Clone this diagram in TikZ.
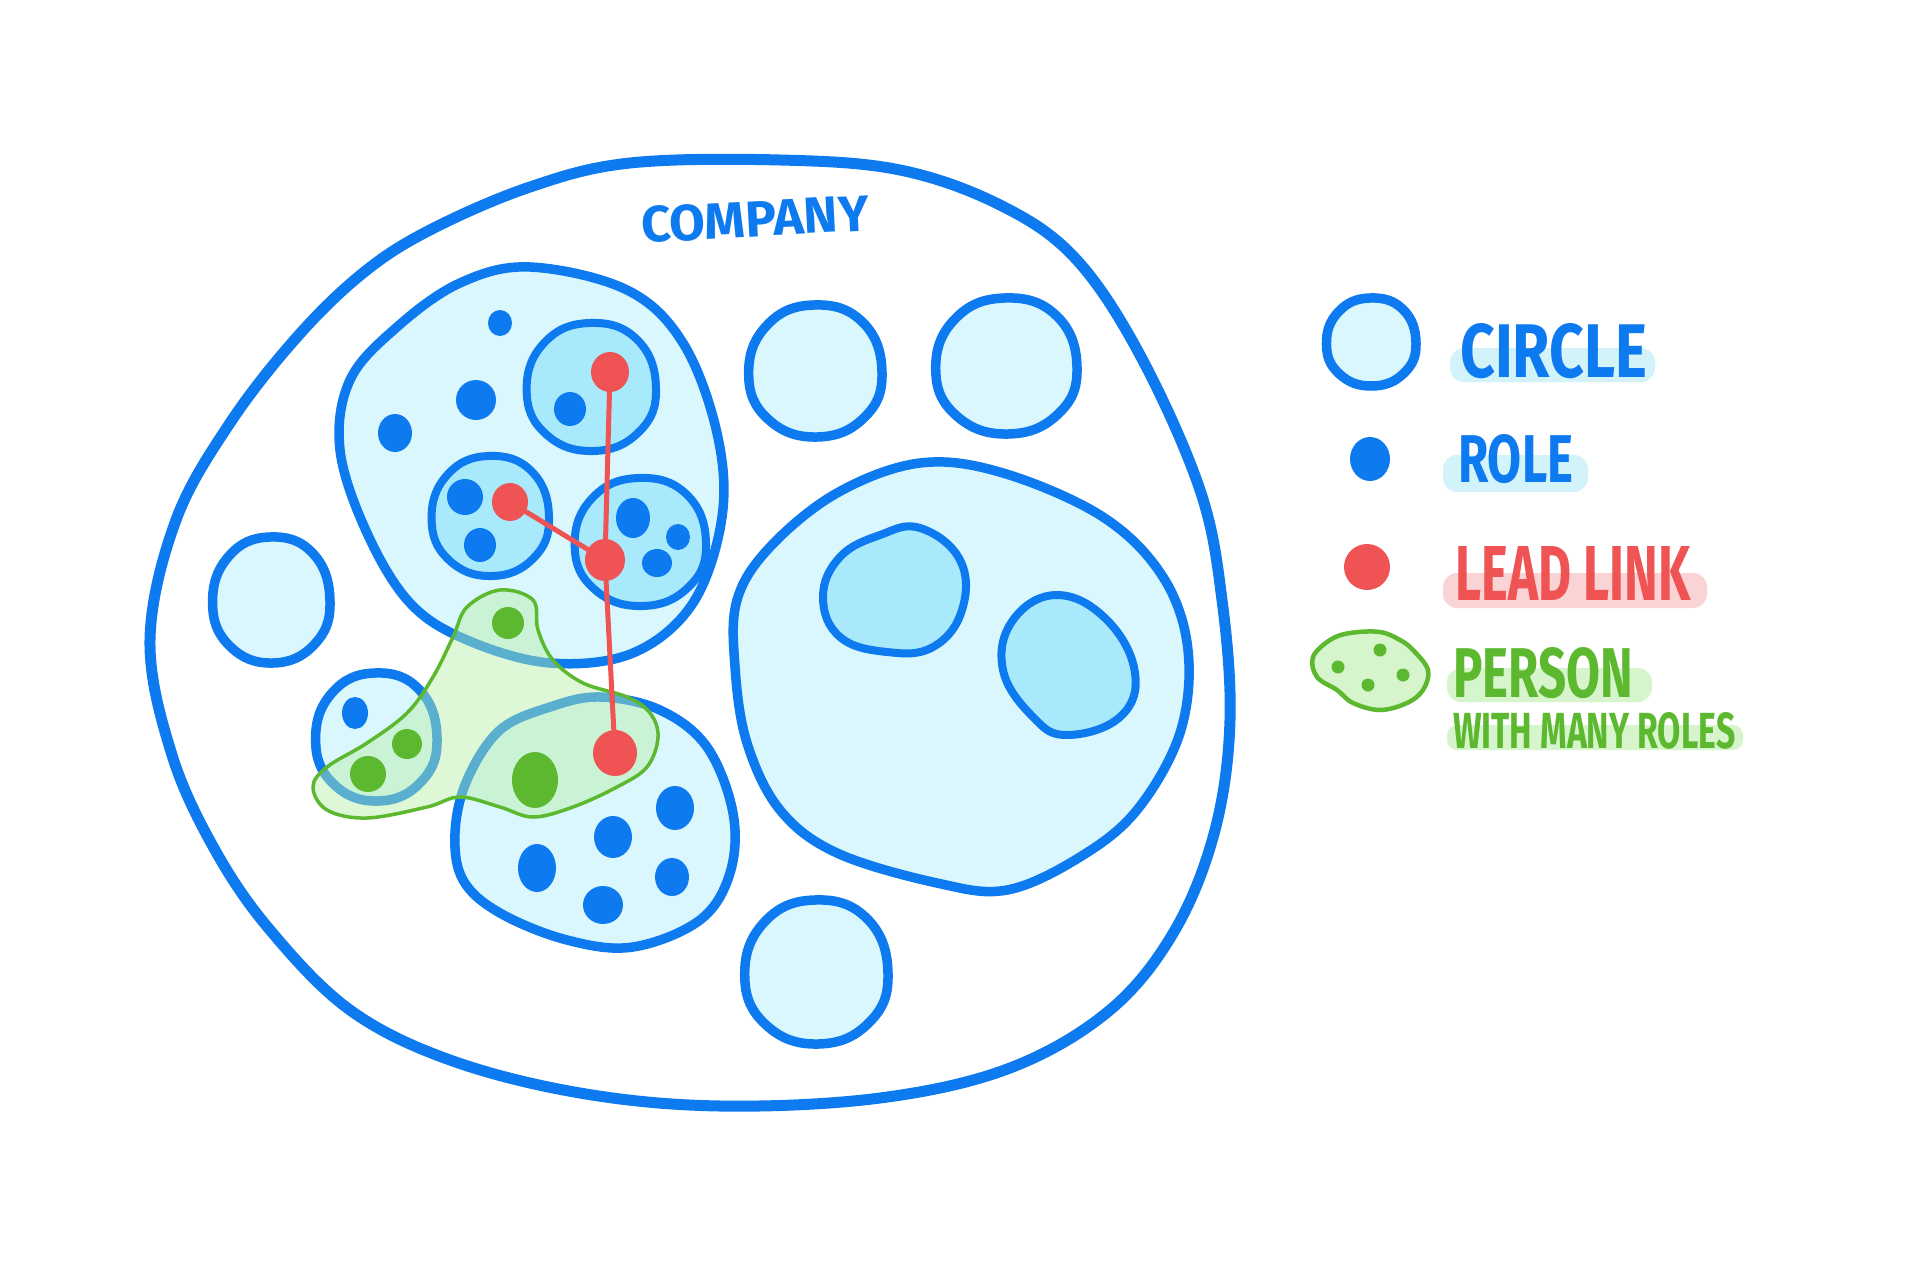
\documentclass[tikz,border=0pt]{standalone}
\usepackage{fontspec}
\usepackage{graphicx}
\newfontfamily\hand{Fira Sans}
\usetikzlibrary{shapes.geometric}
\definecolor{cblue}{HTML}{0E7AF0}
\definecolor{clight}{HTML}{D9F7FD}
\definecolor{cmid}{HTML}{A8E9FC}
\definecolor{cred}{HTML}{EF5353}
\definecolor{cgreen}{HTML}{5CB82E}
\definecolor{cgfill}{HTML}{B8F0A8}
\definecolor{hlblue}{HTML}{D3F3FB}
\definecolor{hlred}{HTML}{FAD4D4}
\definecolor{hlgreen}{HTML}{D6F5CD}
\tikzset{
  outerline/.style={draw=cblue,line width=11pt,line join=round},
  circ/.style={draw=cblue,fill=clight,line width=9.5pt,line join=round},
  innercirc/.style={draw=cblue,fill=cmid,line width=8pt,line join=round},
  role/.style={ellipse,fill=cblue,inner sep=0},
  lead/.style={ellipse,fill=cred,inner sep=0},
  pdot/.style={ellipse,fill=cgreen,inner sep=0},
  leadline/.style={draw=cred,line width=5pt,line cap=round},
  personshape/.style={draw=cgreen,line width=3.5pt,fill=cgfill,fill opacity=0.45,line join=round},
  hl/.style={rounded corners=14,inner sep=0},
  label/.style={inner sep=0,anchor=base west}
}
% hand drawn blob: style, cx, cy, rx, ry
\newcommand\hblob[5]{\draw[#1] plot[smooth cycle,tension=0.75] coordinates {
 ({#2+#4*1.00},{#3+#5*0.02}) ({#2+#4*0.74},{#3+#5*0.70}) ({#2+#4*0.03},{#3+#5*1.00})
 ({#2-#4*0.70},{#3+#5*0.73}) ({#2-#4*0.99},{#3+#5*0.05}) ({#2-#4*0.72},{#3-#5*0.69})
 ({#2-#4*0.02},{#3-#5*1.00}) ({#2+#4*0.71},{#3-#5*0.74})};}
\begin{document}
\begin{tikzpicture}[x=1pt,y=-1pt]
\useasboundingbox (0,0) rectangle (1910,1276);
\fill[white] (0,0) rectangle (1910,1276);
% company
\draw[outerline] plot[smooth cycle,tension=0.6] coordinates {
 (780,160) (900,170) (1000,205) (1075,258) (1140,355) (1200,490) (1222,600)
 (1230,720) (1215,830) (1175,930) (1110,1010) (1010,1068) (880,1098) (720,1106)
 (580,1093) (450,1060) (350,1010) (270,930) (215,850) (172,755) (150,640)
 (176,520) (230,423) (297,337) (363,273) (430,230) (530,187) (630,163)};
\node[inner sep=0,rotate=3,text=cblue] (company) at (755,219) {\resizebox{228pt}{36pt}{\hand\bfseries COMPANY}};
% simple circles
\hblob{circ}{271}{600}{59}{63}
\hblob{circ}{815}{371}{67}{66}
\hblob{circ}{1006}{366}{71}{68}
\hblob{circ}{816}{972}{72}{72}
% big circle G
\draw[circ] plot[smooth cycle,tension=0.6] coordinates {
 (920,463) (1003,473) (1103,517) (1163,577) (1188,650) (1180,733) (1137,810)
 (1080,857) (1007,890) (937,883) (837,853) (780,810) (747,743) (735,667)
 (737,600) (770,547) (837,493)};
\draw[innercirc] plot[smooth cycle,tension=0.7] coordinates {
 (920,528) (960,560) (962,610) (933,647) (887,652) (840,637) (823,597) (840,557) (880,535)};
\draw[innercirc] plot[smooth cycle,tension=0.7] coordinates {
 (1057,595) (1107,620) (1135,673) (1120,717) (1067,735) (1033,717) (1003,670) (1013,620)};
% circle A
\draw[circ] plot[smooth cycle,tension=0.6] coordinates {
 (530,267) (627,290) (683,343) (717,433) (722,517) (693,603) (633,653) (550,663)
 (467,640) (410,603) (367,533) (340,450) (350,380) (397,327) (460,283)};
\hblob{innercirc}{591}{387}{65}{64}
\hblob{innercirc}{490}{516}{59}{60}
\hblob{innercirc}{640}{542}{66}{64}
% circle B
\hblob{circ}{376}{737}{61}{64}
% circle C
\draw[circ] plot[smooth cycle,tension=0.6] coordinates {
 (600,697) (660,710) (707,747) (733,813) (730,873) (700,920) (633,947) (567,940)
 (500,913) (463,880) (455,833) (467,780) (500,730) (550,707)};
% roles
\node[role,minimum width=24,minimum height=26] (ra1) at (500,323) {};
\node[role,minimum width=40,minimum height=40] (ra2) at (476,400) {};
\node[role,minimum width=34,minimum height=38] (ra3) at (395,433) {};
\node[role,minimum width=32,minimum height=34] (ra4) at (570,409) {};
\node[role,minimum width=36,minimum height=36] (ra5) at (465,497) {};
\node[role,minimum width=32,minimum height=34] (ra6) at (480,545) {};
\node[role,minimum width=34,minimum height=40] (ra7) at (633,518) {};
\node[role,minimum width=24,minimum height=26] (ra8) at (678,537) {};
\node[role,minimum width=30,minimum height=28] (ra9) at (657,563) {};
\node[role,minimum width=26,minimum height=32] (rb1) at (355,713) {};
\node[role,minimum width=38,minimum height=44] (rc1) at (675,808) {};
\node[role,minimum width=38,minimum height=42] (rc2) at (613,837) {};
\node[role,minimum width=38,minimum height=48] (rc3) at (537,868) {};
\node[role,minimum width=34,minimum height=38] (rc4) at (672,877) {};
\node[role,minimum width=40,minimum height=38] (rc5) at (603,905) {};
% person
\draw[personshape] plot[smooth cycle,tension=0.6] coordinates {
 (500,590) (533,600) (538,630) (553,660) (583,683) (627,697) (650,713) (658,737)
 (647,767) (617,787) (573,807) (533,817) (500,807) (460,797) (427,807) (367,818)
 (327,810) (313,787) (327,767) (367,743) (407,713) (433,677) (453,637) (467,607)};
\node[pdot,minimum width=32,minimum height=32] (pa) at (508,623) {};
\node[pdot,minimum width=30,minimum height=30] (pb1) at (407,744) {};
\node[pdot,minimum width=36,minimum height=36] (pb2) at (368,774) {};
\node[pdot,minimum width=46,minimum height=56] (pc) at (535,780) {};
% lead links
\node[lead,minimum width=38,minimum height=40] (l1) at (610,372) {};
\node[lead,minimum width=36,minimum height=38] (l2) at (510,502) {};
\node[lead,minimum width=40,minimum height=42] (l3) at (605,560) {};
\node[lead,minimum width=44,minimum height=46] (l4) at (615,753) {};
\draw[leadline] (l1) -- (l3);
\draw[leadline] (l2) -- (l3);
\draw[leadline] (l3) -- (l4);
% legend
\hblob{circ}{1371}{342}{45}{44}
\node[role,minimum width=40,minimum height=44] (legrole) at (1370,459) {};
\node[lead,minimum width=46,minimum height=46] (leglead) at (1367,567) {};
\draw[draw=cgreen,line width=4.5pt,fill=hlgreen] plot[smooth cycle,tension=0.6] coordinates {
 (1350,633) (1380,632) (1400,640) (1413,650) (1428,670) (1423,690) (1407,703)
 (1380,710) (1353,703) (1337,690) (1317,677) (1313,657) (1330,640)};
\node[pdot,minimum size=13] (lp1) at (1338,667) {};
\node[pdot,minimum size=13] (lp2) at (1380,650) {};
\node[pdot,minimum size=13] (lp3) at (1403,675) {};
\node[pdot,minimum size=13] (lp4) at (1368,685) {};
\fill[hlblue,hl] (1450,348) rectangle (1655,382);
\fill[hlblue,hl] (1443,455) rectangle (1588,492);
\fill[hlred,hl] (1443,573) rectangle (1707,608);
\fill[hlgreen,hl] (1447,668) rectangle (1652,702);
\fill[hlgreen,rounded corners=10] (1447,725) rectangle (1743,750);
\node[label,text=cblue] (tcircle) at (1460,377) {\resizebox{187pt}{54pt}{\hand\bfseries CIRCLE}};
\node[label,text=cblue] (trole) at (1458,482) {\resizebox{115pt}{48pt}{\hand\bfseries ROLE}};
\node[label,text=cred] (tlead) at (1455,600) {\resizebox{235pt}{54pt}{\hand\bfseries LEAD LINK}};
\node[label,text=cgreen] (tperson) at (1453,697) {\resizebox{180pt}{50pt}{\hand\bfseries PERSON}};
\node[label,text=cgreen] (twith) at (1453,748) {\resizebox{282pt}{36pt}{\hand\bfseries WITH MANY ROLES}};
\end{tikzpicture}
\end{document}
